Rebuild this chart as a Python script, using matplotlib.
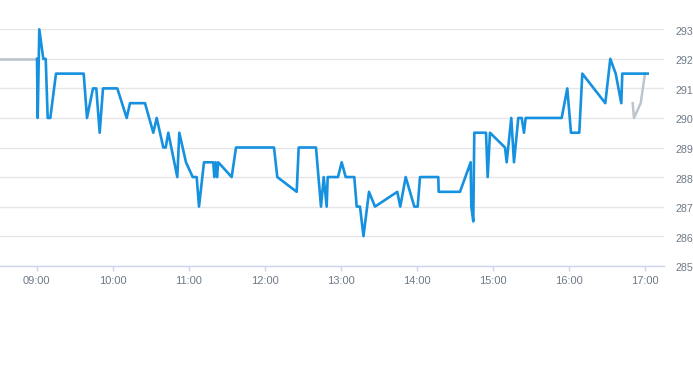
import matplotlib
matplotlib.use("Agg")
import matplotlib.pyplot as plt
import matplotlib.dates as mdates
import matplotlib.transforms as mtransforms
import pandas as pd

DAY = "2024-01-02 "

# Main session price series (blue)
main_times = [
    "09:00:10", "09:00:43", "09:01:58", "09:05:08", "09:07:02", "09:08:36", "09:10:39", "09:15:09",
    "09:37:02", "09:39:38", "09:44:22", "09:46:58", "09:49:39", "09:52:16", "10:03:33", "10:10:58",
    "10:13:35", "10:25:25", "10:31:58", "10:34:39", "10:39:52", "10:41:46", "10:43:49", "10:50:55",
    "10:52:30", "10:57:47", "11:03:05", "11:06:14", "11:08:03", "11:12:00", "11:19:20", "11:20:08",
    "11:21:14", "11:22:16", "11:23:17", "11:33:52", "11:37:16", "12:07:16", "12:09:52", "12:25:11",
    "12:26:46", "12:40:25", "12:44:22", "12:46:30", "12:48:52", "12:49:39", "12:57:47", "13:00:43",
    "13:03:52", "13:10:39", "13:12:33", "13:15:09", "13:17:55", "13:22:16", "13:27:00", "13:44:36",
    "13:46:58", "13:51:14", "13:58:02", "14:00:43", "14:02:32", "14:16:58", "14:17:17", "14:34:06",
    "14:42:33", "14:43:02", "14:44:36", "14:45:24", "14:54:38", "14:55:58", "14:57:47", "15:09:38",
    "15:10:58", "15:14:36", "15:16:44", "15:20:08", "15:22:49", "15:24:38", "15:25:58", "15:54:23",
    "15:58:49", "16:01:44", "16:08:17", "16:10:40", "16:28:49", "16:32:46", "16:37:02", "16:41:27",
    "16:42:14", "17:02:17",
]
main_values = [
    292, 290, 293, 292, 292, 290, 290, 291.5,
    291.5, 290, 291, 291, 289.5, 291, 291, 290,
    290.5, 290.5, 289.5, 290, 289, 289, 289.5, 288,
    289.5, 288.5, 288, 288, 287, 288.5, 288.5, 288,
    288.5, 288, 288.5, 288, 289, 289, 288, 287.5,
    289, 289, 287, 288, 287, 288, 288, 288.5,
    288, 288, 287, 287, 286, 287.5, 287, 287.5,
    287, 288, 287, 287, 288, 288, 287.5, 287.5,
    288.5, 287, 286.5, 289.5, 289.5, 288, 289.5, 289,
    288.5, 290, 288.5, 290, 290, 289.5, 290, 290,
    291, 289.5, 289.5, 291.5, 290.5, 292, 291.5, 290.5,
    291.5, 291.5,
]

# Previous close reference (grey, left)
prev_times = ["08:30:57", "09:00:10"]
prev_values = [292, 292]

# After-hours series (grey, right)
post_times = ["16:50:27", "16:51:28", "16:56:46", "17:00:10"]
post_values = [290.5, 290, 290.5, 291.5]

x_ticks = ["09:00", "10:00", "11:00", "12:00", "13:00", "14:00", "15:00", "16:00", "17:00"]
y_ticks = [285, 286, 287, 288, 289, 290, 291, 292, 293]
x_range = ["08:30:57", "17:15:10"]


def to_dt(lst):
    return pd.to_datetime([DAY + t for t in lst])


plt.rcParams["font.family"] = ["Liberation Sans", "DejaVu Sans"]

fig = plt.figure(figsize=(6.93, 3.65), dpi=100)
ax = fig.add_axes([0.0, (365 - 265.7) / 365, 664 / 693, (265.7 - 29.3) / 365])

ax.plot(to_dt(prev_times), prev_values, color="#b9c3cc", lw=1.8, clip_on=False, zorder=3)
ax.plot(to_dt(post_times), post_values, color="#bcc5ce", lw=1.8, clip_on=False, zorder=3)
ax.plot(to_dt(main_times), main_values, color="#1591e0", lw=1.9, clip_on=False, zorder=4)

xr = to_dt(x_range)
ax.set_xlim(xr[0], xr[1])
ax.set_ylim(285, 293)

ax.set_xticks(to_dt(x_ticks))
ax.xaxis.set_major_formatter(mdates.DateFormatter("%H:%M"))
ax.set_yticks(y_ticks)
ax.set_yticklabels([str(v) for v in y_ticks])

ax.yaxis.tick_right()
ax.grid(axis="y", color="#e6e6e6", lw=1.0, zorder=0)
ax.grid(axis="x", visible=False)
for s in ["top", "left", "right"]:
    ax.spines[s].set_visible(False)
ax.spines["bottom"].set_color("#ccd6eb")
ax.spines["bottom"].set_linewidth(1.0)

ax.tick_params(axis="x", length=3.5, width=1, color="#ccd6eb", pad=4,
               labelsize=8.0, labelcolor="#6e7a87")
ax.tick_params(axis="y", length=0, pad=8.0, labelsize=7.7, labelcolor="#6e7a87")

offset = mtransforms.ScaledTranslation(0, -1.5 / 100, fig.dpi_scale_trans)
for lbl in ax.get_yticklabels():
    lbl.set_horizontalalignment("left")
    lbl.set_transform(lbl.get_transform() + offset)

fig.savefig("out.png", dpi=100)
